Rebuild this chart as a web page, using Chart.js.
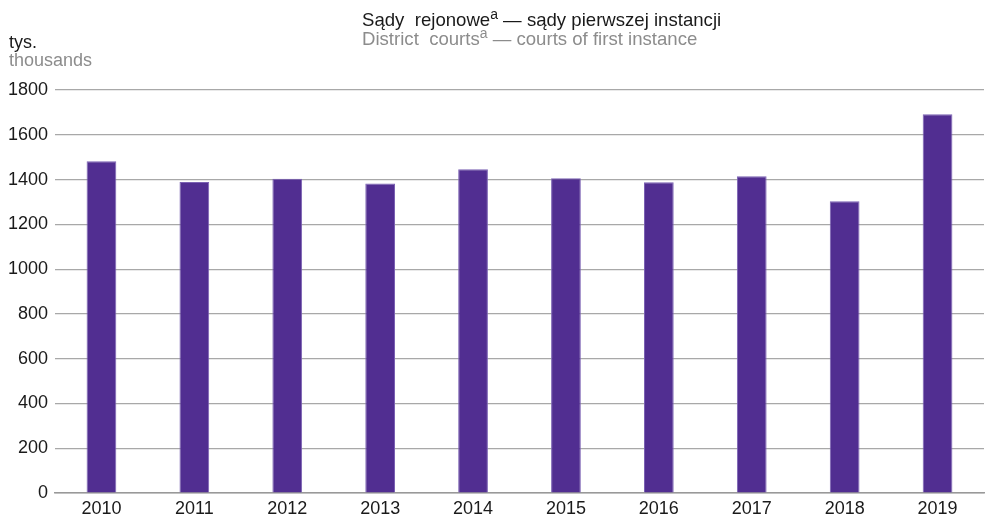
<!DOCTYPE html>
<html>
<head>
<meta charset="utf-8">
<script src="https://cdn.jsdelivr.net/npm/chart.js@4"></script>
<style>
  html, body { margin: 0; padding: 0; background: #fff; }
  #wrap { width: 989px; height: 523px; }
</style>
</head>
<body>
<div id="wrap"><canvas id="courtsChart" width="989" height="523"></canvas></div>
<script>
// data
const years = ['2010', '2011', '2012', '2013', '2014', '2015', '2016', '2017', '2018', '2019'];
const cases = [1482, 1389, 1404, 1382, 1446, 1406, 1388, 1415, 1303, 1692];
const yMax = 1800;
const yStep = 200;

const FONT = '"Liberation Sans", Arial, sans-serif';

// header texts (title, subtitle, unit labels)
const headerPlugin = {
    id: 'header',
    afterDraw(chart) {
        const ctx = chart.ctx;
        ctx.save();
        ctx.textBaseline = 'alphabetic';
        ctx.textAlign = 'left';

        function withSup(x, y, parts, color) {
            ctx.fillStyle = color;
            parts.forEach(p => {
                ctx.font = (p.sup ? '14px ' : '18.6px ') + FONT;
                ctx.fillText(p.t, x, p.sup ? y - 7 : y);
                x += ctx.measureText(p.t).width;
            });
        }
        withSup(362, 26, [
            { t: 'Sądy  rejonowe' }, { t: 'a', sup: true }, { t: ' — sądy pierwszej instancji' }
        ], '#1a1a1a');
        withSup(362, 45, [
            { t: 'District  courts' }, { t: 'a', sup: true }, { t: ' — courts of first instance' }
        ], '#8c8c8c');

        ctx.font = '18px ' + FONT;
        ctx.fillStyle = '#1a1a1a';
        ctx.fillText('tys.', 9, 48);
        ctx.fillStyle = '#8c8c8c';
        ctx.fillText('thousands', 9, 66);
        ctx.restore();
    }
};

const ctx = document.getElementById('courtsChart').getContext('2d');
new Chart(ctx, {
    type: 'bar',
    data: {
        labels: years,
        datasets: [{
            data: cases,
            backgroundColor: '#512e91',
            borderColor: '#7b62b3',
            borderWidth: 1,
            barPercentage: 0.32,
            categoryPercentage: 1.0
        }]
    },
    options: {
        responsive: false,
        animation: false,
        layout: { padding: { top: 90, right: 5, left: 0, bottom: 0 } },
        plugins: {
            legend: { display: false },
            tooltip: { enabled: false }
        },
        scales: {
            x: {
                grid: { display: false, drawTicks: false },
                border: { display: true, color: '#999', width: 1.5 },
                ticks: { color: '#1a1a1a', font: { family: FONT, size: 18 }, padding: 5 },
                afterFit(scale) { scale.height = 30; }
            },
            y: {
                min: 0,
                max: yMax,
                ticks: {
                    stepSize: yStep,
                    color: '#1a1a1a',
                    font: { family: FONT, size: 18 },
                    padding: 7,
                    callback: v => String(v)
                },
                grid: { color: '#a8a8a8', lineWidth: 1.2, drawTicks: false },
                border: { display: false },
                afterFit(scale) { scale.width = 55; }
            }
        }
    },
    plugins: [headerPlugin]
});
</script>
</body>
</html>
